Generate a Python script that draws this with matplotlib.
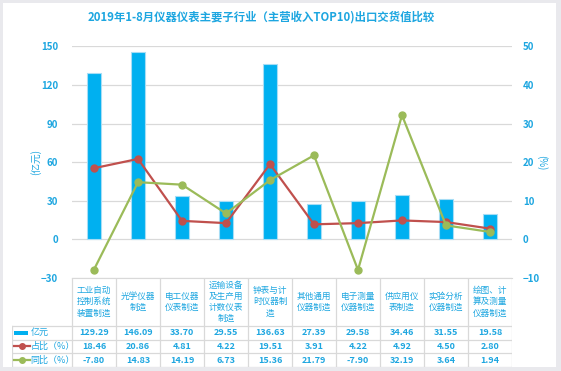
import numpy as np
import matplotlib
matplotlib.use('Agg')
import matplotlib.pyplot as plt
from matplotlib.patches import Rectangle

plt.rcParams['font.family'] = ['Noto Sans CJK SC', 'DejaVu Sans']

# data
categories = ['工业自动\n控制系统\n装置制造', '光学仪器\n制造', '电工仪器\n仪表制造',
              '运输设备\n及生产用\n计数仪表\n制造', '钟表与计\n时仪器制\n造', '其他通用\n仪器制造',
              '电子测量\n仪器制造', '供应用仪\n表制造', '实验分析\n仪器制造', '绘图、计\n算及测量\n仪器制造']
value_yy = [129.29, 146.09, 33.70, 29.55, 136.63, 27.39, 29.58, 34.46, 31.55, 19.58]
share_pct = [18.46, 20.86, 4.81, 4.22, 19.51, 3.91, 4.22, 4.92, 4.50, 2.80]
yoy_pct = [-7.80, 14.83, 14.19, 6.73, 15.36, 21.79, -7.90, 32.19, 3.64, 1.94]
row_names = ['亿元', '占比（%）', '同比（%）']
left_ticks = [-30, 0, 30, 60, 90, 120, 150]
right_ticks = [-10, 0, 10, 20, 30, 40, 50]

W, H = 561, 371
blue_txt = '#1DA6E0'
bar_c = '#00B0F0'
red_c = '#C0504D'
green_c = '#9BBB59'
grid_c = '#D9D9D9'

fig = plt.figure(figsize=(W / 100, H / 100), dpi=100)
fig.patch.set_facecolor('#E9E9ED')
# white panel behind everything
fig.patches.append(Rectangle((3 / W, 4 / H), 553 / W, 364 / H, transform=fig.transFigure,
                             facecolor='white', edgecolor='none', zorder=-5))

def fx(px):
    return px / W

def fy(py):
    return 1 - py / H

x0, x1, ytop, ybot = 72, 512, 46.5, 278
ax = fig.add_axes([fx(x0), fy(ybot), fx(x1 - x0), (ybot - ytop) / H])
ax.set_facecolor('none')
x = np.arange(len(categories))

ax.bar(x, value_yy, width=0.31, color=bar_c, edgecolor='#A6DDF5', linewidth=0.8, zorder=2)
ax.set_ylim(-30, 150)
ax.set_yticks(left_ticks)
ax.set_xlim(-0.5, len(categories) - 0.5)
ax.set_xticks([])
ax.yaxis.grid(True, color=grid_c, linewidth=0.9)
ax.set_axisbelow(True)
for s in ['top', 'left', 'right']:
    ax.spines[s].set_visible(False)
ax.spines['bottom'].set_color(grid_c)
ax.tick_params(axis='y', length=0, pad=10, labelsize=7, labelcolor=blue_txt)
for t in ax.get_yticklabels():
    t.set_fontweight('bold')
ax.set_ylabel('(亿元)', color=blue_txt, fontsize=7, va='center')
ax.yaxis.set_label_coords((36 - x0) / (x1 - x0), 0.5)

ax2 = ax.twinx()
ax2.set_ylim(-10, 50)
ax2.set_yticks(right_ticks)
ax2.plot(x, share_pct, color=red_c, linewidth=1.6, marker='o', markersize=5, zorder=3)
ax2.plot(x, yoy_pct, color=green_c, linewidth=1.6, marker='o', markersize=5, zorder=4)
for s in ['top', 'left', 'right', 'bottom']:
    ax2.spines[s].set_visible(False)
ax2.tick_params(axis='y', length=0, pad=8, labelsize=7, labelcolor=blue_txt)
for t in ax2.get_yticklabels():
    t.set_fontweight('bold')
ax2.set_ylabel('(%)', color=blue_txt, fontsize=7, rotation=270, va='center')
ax2.yaxis.set_label_coords((542 - x0) / (x1 - x0), 0.5)

fig.text(fx(261), fy(17), '2019年1-8月仪器仪表主要子行业（主营收入TOP10)出口交货值比较',
         ha='center', va='center', fontsize=8.2, color=blue_txt, fontweight='bold')

# data table under the chart, in pixel coordinates
xl = 11.5
tb = fig.add_axes([fx(xl), fy(367), fx(x1 - xl), (367 - 278) / H])
tb.set_xlim(xl, x1)
tb.set_ylim(367, 278)
tb.axis('off')
cw = (x1 - x0) / len(categories)
hb, r1, r2, r3 = 325.7, 339.5, 353.3, 367
for k in range(len(categories) + 1):
    tb.plot([x0 + k * cw] * 2, [278, r3], color=grid_c, linewidth=0.9)
tb.plot([xl, xl], [hb, r3], color=grid_c, linewidth=0.9)
for yy in [hb, r1, r2, r3 - 0.5]:
    tb.plot([xl, x1], [yy, yy], color=grid_c, linewidth=0.9)

rows = [value_yy, share_pct, yoy_pct]
row_mid = [(hb + r1) / 2, (r1 + r2) / 2, (r2 + r3) / 2]
for k, name in enumerate(categories):
    cx = x0 + (k + 0.5) * cw
    tb.text(cx, (278 + hb) / 2, name, ha='center', va='center', fontsize=6.2,
            color=blue_txt, linespacing=1.3)
    for vals, ym in zip(rows, row_mid):
        tb.text(cx, ym, f'{vals[k]:.2f}', ha='center', va='center', fontsize=6.5,
                color=blue_txt, fontweight='bold')

# row headers with legend keys
tb.add_patch(Rectangle((14, row_mid[0] - 2), 14, 4, facecolor=bar_c, edgecolor='none'))
tb.plot([13.5, 30], [row_mid[1]] * 2, color=red_c, linewidth=1.6)
tb.plot([21.5], [row_mid[1]], marker='o', color=red_c, markersize=4)
tb.plot([13.5, 30], [row_mid[2]] * 2, color=green_c, linewidth=1.6)
tb.plot([21.5], [row_mid[2]], marker='o', color=green_c, markersize=4)
for name, ym in zip(row_names, row_mid):
    tb.text(30.5, ym, name, ha='left', va='center', fontsize=6.5, color=blue_txt)

plt.savefig('out.png', dpi=100, facecolor=fig.get_facecolor())
